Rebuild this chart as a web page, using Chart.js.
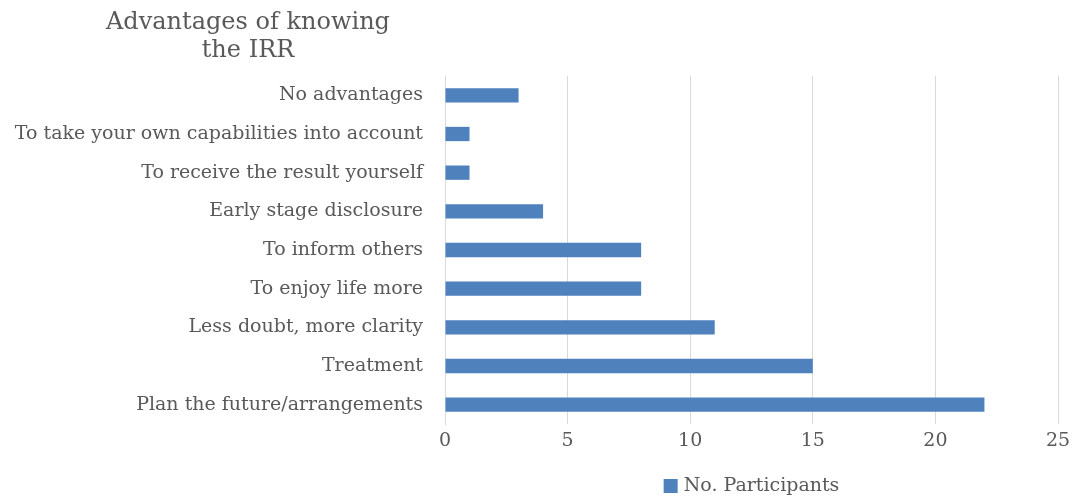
<!DOCTYPE html>
<html>
<head>
<meta charset="utf-8">
<script src="https://cdn.jsdelivr.net/npm/chart.js@4/dist/chart.umd.min.js"></script>
<style>
  html, body { margin: 0; padding: 0; background: #fff; }
  #wrap { width: 1073px; height: 498px; position: relative; }
</style>
</head>
<body>
<div id="wrap"><canvas id="chart"></canvas></div>
<script>
const categories = [
  'No advantages',
  'To take your own capabilities into account',
  'To receive the result yourself',
  'Early stage disclosure',
  'To inform others',
  'To enjoy life more',
  'Less doubt, more clarity',
  'Treatment',
  'Plan the future/arrangements'
]
const participants = [3, 1, 1, 4, 8, 8, 11, 15, 22]
const titleLines = ['Advantages of knowing', 'the IRR']

const FONT = "'DejaVu Serif', 'Liberation Serif', serif"
const TEXT = '#595959'
const BLUE = '#4f81bd'

// title and legend are drawn by hand: title lines centred on each other at top left,
// legend centred under the plot area rather than the whole canvas
const decor = {
  id: 'decor',
  afterDraw(chart) {
    const ctx = chart.ctx
    const area = chart.chartArea
    ctx.save()
    ctx.fillStyle = TEXT
    ctx.font = `24px ${FONT}`
    ctx.textAlign = 'center'
    ctx.textBaseline = 'middle'
    titleLines.forEach((t, i) => ctx.fillText(t, 248, 23 + i * 28))

    const label = chart.data.datasets[0].label
    ctx.font = `19px ${FONT}`
    const w = 14 + 6 + ctx.measureText(label).width
    const x0 = (area.left + area.right) / 2 - w / 2
    const yc = 486
    ctx.fillStyle = BLUE
    ctx.fillRect(x0, yc - 7, 14, 14)
    ctx.fillStyle = TEXT
    ctx.textAlign = 'left'
    ctx.fillText(label, x0 + 20, yc)
    ctx.restore()
  }
}

new Chart(document.getElementById('chart'), {
  type: 'bar',
  data: {
    labels: categories,
    datasets: [{
      label: 'No. Participants',
      data: participants,
      backgroundColor: BLUE,
      categoryPercentage: 1,
      barPercentage: 0.37
    }]
  },
  options: {
    indexAxis: 'y',
    responsive: true,
    maintainAspectRatio: false,
    animation: false,
    layout: { padding: { top: 76, right: 15, left: 0, bottom: 44 } },
    plugins: {
      tooltip: { enabled: false },
      legend: { display: false }
    },
    scales: {
      x: {
        min: 0, max: 25,
        // fixed band height, and no extra side padding for the end labels
        afterFit(scale) {
          scale.height = 30
          scale.paddingLeft = 0
          scale.paddingRight = 0
        },
        ticks: { stepSize: 5, color: TEXT, font: { family: FONT, size: 19 }, padding: 6 },
        grid: { color: '#d9d9d9', lineWidth: 1, drawTicks: false },
        border: { display: false }
      },
      y: {
        afterFit(scale) { scale.width = 445 },
        ticks: { color: TEXT, font: { family: FONT, size: 19 }, padding: 22 },
        grid: { display: false, drawTicks: false },
        border: { color: '#d9d9d9', width: 1 }
      }
    }
  },
  plugins: [decor]
})
</script>
</body>
</html>
